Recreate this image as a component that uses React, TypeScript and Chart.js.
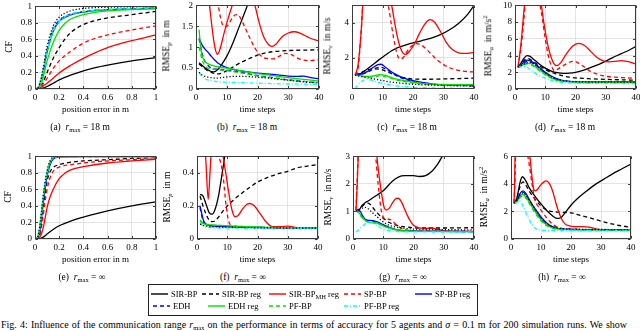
import React, { useEffect, useRef } from 'react';
import { Chart, registerables } from 'chart.js';

Chart.register(...registerables);

type Pt = [number, number];

// ---------- tick labels ----------
const cfTicks = [0, 0.2, 0.4, 0.6, 0.8, 1];
const timeTicks = [0, 10, 20, 30, 40];
const bTicksY = [0, 0.5, 1, 1.5, 2];
const cTicksY = [2, 4];
const dTicksY = [0, 2, 4, 6, 8, 10];
const fTicksY = [0, 0.2, 0.4];
const gTicksY = [0, 1, 2, 3];
const hTicksY = [0, 2, 4, 6];

// ---------- (a) CF, r_max = 18 m ----------
const aSir: Pt[] = [[0,0],[0.05,0.005],[0.1,0.03],[0.15,0.07],[0.2,0.11],[0.3,0.17],[0.4,0.22],[0.5,0.26],[0.6,0.29],[0.8,0.34],[1,0.38]];
const aSirReg: Pt[] = [[0,0],[0.03,0.01],[0.06,0.06],[0.1,0.2],[0.15,0.37],[0.2,0.5],[0.25,0.61],[0.3,0.69],[0.4,0.78],[0.5,0.83],[0.6,0.86],[0.8,0.9],[1,0.94]];
const aSirMh: Pt[] = [[0,0],[0.05,0.02],[0.1,0.07],[0.15,0.13],[0.2,0.195],[0.3,0.29],[0.4,0.37],[0.5,0.44],[0.6,0.5],[0.8,0.585],[1,0.655]];
const aSp: Pt[] = [[0,0],[0.05,0.03],[0.1,0.13],[0.15,0.25],[0.2,0.34],[0.3,0.46],[0.4,0.555],[0.5,0.615],[0.6,0.655],[0.8,0.715],[1,0.765]];
const aSpReg: Pt[] = [[0,0],[0.03,0.02],[0.06,0.15],[0.1,0.45],[0.15,0.7],[0.2,0.82],[0.25,0.87],[0.3,0.9],[0.4,0.93],[0.6,0.96],[0.8,0.97],[1,0.98]];
const aEdh: Pt[] = [[0,0],[0.03,0.02],[0.06,0.16],[0.1,0.47],[0.15,0.72],[0.2,0.83],[0.25,0.88],[0.3,0.91],[0.4,0.94],[0.6,0.96],[0.8,0.97],[1,0.98]];
const aEdhReg: Pt[] = [[0,0],[0.03,0.01],[0.06,0.1],[0.1,0.34],[0.15,0.56],[0.2,0.71],[0.25,0.8],[0.3,0.85],[0.4,0.9],[0.6,0.945],[0.8,0.96],[1,0.97]];
const aPf: Pt[] = [[0,0],[0.03,0.02],[0.06,0.15],[0.1,0.44],[0.15,0.69],[0.2,0.81],[0.25,0.87],[0.3,0.9],[0.4,0.93],[0.6,0.96],[0.8,0.97],[1,0.98]];
const aPfReg: Pt[] = [[0,0],[0.03,0.02],[0.06,0.16],[0.1,0.46],[0.15,0.71],[0.2,0.82],[0.25,0.88],[0.3,0.91],[0.4,0.94],[0.6,0.965],[0.8,0.975],[1,0.985]];
const aCrb: Pt[] = [[0,0],[0.03,0.03],[0.06,0.2],[0.1,0.52],[0.15,0.76],[0.2,0.87],[0.25,0.92],[0.3,0.95],[0.4,0.975],[0.6,0.99],[0.8,0.995],[1,1]];

// ---------- (b) RMSE_p, r_max = 18 m ----------
const bSir: Pt[] = [[1,0.63],[3,0.5],[4.5,0.43],[5.8,0.41],[7,0.46],[8,0.55],[10,0.78],[12,1.1],[14,1.48],[16,1.86],[17,2.06],[18,2.3]];
const bSirReg: Pt[] = [[1,0.6],[3,0.48],[5,0.4],[7,0.36],[9,0.4],[11,0.48],[13,0.57],[15,0.65],[18,0.75],[20,0.81],[23,0.87],[26,0.9],[30,0.92],[35,0.93],[40,0.935]];
const bSirMh: Pt[] = [[1,3.5],[3,2.8],[4.4,2.0],[5.5,1.3],[6.3,0.95],[7,0.83],[7.8,0.95],[9,1.3],[10.5,1.7],[12,2.05],[14,2.5],[17,2.5],[19,2.05],[20.5,1.6],[22,1.25],[23.5,1.07],[24.7,1.02],[26,1.07],[28,1.25],[30,1.34],[32,1.37],[34,1.33],[37,1.22],[40,1.15]];
const bSp: Pt[] = [[1,3.0],[5,2.6],[7,2.1],[8,1.7],[9,1.5],[10,1.5],[11,1.6],[12,1.72],[13,1.78],[14,1.75],[15,1.62],[17,1.3],[19,1.0],[21,0.8],[23,0.73],[25,0.72],[27,0.78],[29,0.85],[31,0.82],[33,0.74],[35,0.69],[37,0.68],[40,0.7]];
const bSpReg: Pt[] = [[1,1.22],[2,1.05],[3,0.95],[4,0.87],[5,0.78],[6,0.7],[7,0.63],[8,0.58],[10,0.51],[12,0.47],[15,0.43],[18,0.4],[20,0.38],[25,0.35],[30,0.31],[33,0.3],[35,0.31],[37,0.28],[40,0.24]];
const bEdh: Pt[] = [[1,1.2],[2,0.85],[3,0.65],[5,0.5],[7,0.47],[10,0.45],[13,0.42],[16,0.38],[20,0.32],[25,0.27],[30,0.22],[35,0.18],[40,0.15]];
const bEdhReg: Pt[] = [[1,1.42],[1.5,1.0],[2,0.8],[3,0.65],[4,0.6],[6,0.55],[8,0.52],[10,0.5],[13,0.46],[16,0.42],[20,0.37],[25,0.32],[30,0.27],[35,0.23],[40,0.19]];
const bPf: Pt[] = [[1,1.0],[2,0.7],[3,0.55],[5,0.48],[8,0.46],[10,0.44],[15,0.38],[20,0.31],[25,0.26],[30,0.21],[35,0.18],[40,0.16]];
const bPfReg: Pt[] = [[1,0.4],[2,0.3],[3,0.24],[5,0.2],[8,0.17],[12,0.16],[20,0.14],[30,0.12],[40,0.11]];
const bCrb: Pt[] = [[1,0.4],[2,0.33],[3,0.3],[5,0.27],[7,0.26],[9,0.28],[12,0.3],[16,0.3],[20,0.28],[25,0.25],[30,0.21],[35,0.17],[40,0.14]];

// ---------- (c) RMSE_v, r_max = 18 m ----------
const cSir: Pt[] = [[1,1.0],[3,1.1],[5,1.35],[7,1.62],[9,1.9],[11,2.15],[13,2.4],[15,2.58],[18,2.75],[20,2.85],[23,2.98],[26,3.12],[29,3.32],[32,3.6],[35,3.98],[38,4.5],[40,5.0]];
const cSirReg: Pt[] = [[1,1.0],[3,1.15],[5,1.3],[8,1.35],[10,1.3],[12,1.15],[15,0.95],[18,0.82],[20,0.77],[25,0.76],[30,0.78],[35,0.8],[40,0.82]];
const cSirMh: Pt[] = [[1,1.0],[2,1.6],[3,3.5],[3.6,5.2],[4,6],[10,6],[12,5.6],[13,5.0],[14,4.0],[15,3.1],[16,2.5],[17.5,2.18],[19,2.4],[20.5,2.8],[22,3.35],[24,3.95],[25.5,4.18],[27,4.05],[29,3.5],[31,2.85],[33,2.45],[35,2.28],[37,2.25],[40,2.3]];
const cSp: Pt[] = [[1,1.0],[2,1.4],[3,3.5],[4,6],[10,6],[11,5.6],[12,4.9],[13,3.8],[14,2.8],[15,2.1],[16,1.92],[17,2.05],[18,2.35],[19.5,2.65],[21,2.8],[22.5,2.75],[24,2.55],[26,2.2],[28,1.85],[30,1.6],[32,1.42],[35,1.27],[38,1.2],[40,1.18]];
const cSpReg: Pt[] = [[1,1.0],[3,1.05],[5,1.2],[7,1.45],[8.5,1.6],[9.5,1.62],[11,1.45],[13,1.18],[15,0.98],[17,0.82],[20,0.68],[23,0.58],[26,0.5],[30,0.45],[35,0.42],[40,0.4]];
const cEdh: Pt[] = [[1,1.0],[3,1.05],[5,1.15],[7,1.35],[9,1.45],[11,1.35],[13,1.12],[15,0.92],[18,0.72],[21,0.6],[25,0.5],[30,0.43],[35,0.4],[40,0.38]];
const cEdhReg: Pt[] = [[1,1.0],[3,0.95],[5,0.92],[7,0.95],[9,1.02],[11,0.98],[13,0.85],[15,0.75],[18,0.65],[21,0.57],[25,0.5],[30,0.46],[35,0.45],[40,0.45]];
const cPf: Pt[] = [[1,1.0],[3,0.93],[5,0.88],[7,0.9],[9,0.95],[11,0.9],[13,0.8],[15,0.7],[18,0.6],[21,0.53],[25,0.47],[30,0.43],[40,0.41]];
const cPfReg: Pt[] = [[1,0.22],[2,0.45],[3,0.62],[4,0.72],[5,0.75],[6,0.72],[8,0.62],[10,0.52],[13,0.42],[16,0.35],[20,0.3],[25,0.27],[30,0.25],[40,0.23]];
const cCrb: Pt[] = [[1,1.0],[3,0.92],[5,0.85],[7,0.78],[9,0.72],[12,0.62],[15,0.55],[18,0.5],[21,0.46],[25,0.43],[30,0.4],[35,0.38],[40,0.37]];

// ---------- (d) RMSE_a, r_max = 18 m ----------
const dSir: Pt[] = [[1,2.6],[2,3.1],[3,3.7],[4,4.0],[5,3.9],[6,3.6],[8,3.0],[10,2.5],[12,2.15],[14,1.95],[16,1.88],[18,1.9],[20,2.0],[23,2.3],[26,2.7],[29,3.15],[32,3.7],[35,4.2],[38,4.7],[40,5.1]];
const dSirReg: Pt[] = [[1,2.6],[2,3.0],[3,3.4],[4,3.65],[5,3.55],[6,3.3],[8,2.8],[10,2.35],[12,2.0],[14,1.75],[16,1.55],[18,1.42],[20,1.33],[25,1.22],[30,1.15],[35,1.1],[40,1.06]];
const dSirMh: Pt[] = [[1,2.6],[2,5.5],[3,9.5],[3.5,11],[8,11],[8.5,10.5],[9.5,8],[11,5],[12.5,3.3],[13.8,2.8],[15,3.1],[17,4.2],[19,5.1],[21,5.45],[23,5.2],[25,4.5],[27,3.8],[29,3.4],[31,3.25],[33,3.3],[35,3.4],[37,3.3],[40,3.0]];
const dSp: Pt[] = [[1,2.6],[2,5],[3,8.5],[3.5,11],[7,11],[8,10.5],[9,8.5],[10,6],[11,4],[12,2.8],[13,2.2],[14,2.35],[16,2.8],[18,3.2],[19.5,3.3],[21,3.1],[23,2.6],[25,2.1],[27,1.8],[30,1.52],[33,1.42],[36,1.35],[40,1.28]];
const dSpReg: Pt[] = [[1,2.6],[2,2.9],[3,3.25],[4,3.45],[5,3.4],[6,3.2],[8,2.6],[10,2.0],[12,1.55],[14,1.2],[16,1.0],[18,0.92],[20,0.88],[25,0.85],[30,0.85],[40,0.85]];
const dEdh: Pt[] = [[1,2.6],[2,2.85],[3,3.1],[4,3.3],[5,3.25],[6,3.05],[8,2.5],[10,1.9],[12,1.45],[14,1.12],[16,0.95],[20,0.85],[30,0.82],[40,0.82]];
const dEdhReg: Pt[] = [[1,2.6],[2,2.75],[3,2.95],[4,3.1],[5,3.05],[6,2.85],[8,2.3],[10,1.8],[12,1.35],[14,1.05],[16,0.92],[20,0.85],[30,0.8],[40,0.8]];
const dPf: Pt[] = [[1,2.6],[2,2.7],[3,2.9],[4,3.0],[5,2.95],[6,2.75],[8,2.2],[10,1.7],[12,1.3],[14,1.0],[16,0.9],[20,0.82],[30,0.78],[40,0.78]];
const dPfReg: Pt[] = [[1,2.6],[2,2.65],[3,2.7],[4,2.6],[5,2.35],[6,2.05],[8,1.6],[10,1.3],[12,1.02],[15,0.8],[20,0.7],[30,0.67],[40,0.65]];
const dCrb: Pt[] = [[1,2.6],[3,3.0],[5,3.2],[7,2.8],[10,1.95],[12,1.45],[14,1.15],[17,0.95],[20,0.88],[30,0.82],[40,0.8]];

// ---------- (e) CF, r_max = inf ----------
const eSir: Pt[] = [[0,0],[0.03,0.002],[0.05,0.01],[0.08,0.035],[0.1,0.06],[0.15,0.115],[0.2,0.16],[0.3,0.22],[0.4,0.265],[0.5,0.305],[0.6,0.34],[0.8,0.4],[1,0.45]];
const eSirReg: Pt[] = [[0,0],[0.02,0.005],[0.04,0.06],[0.06,0.25],[0.08,0.5],[0.1,0.7],[0.12,0.8],[0.15,0.865],[0.2,0.9],[0.3,0.93],[0.4,0.945],[0.6,0.96],[0.8,0.975],[1,0.985]];
const eSirMh: Pt[] = [[0,0],[0.03,0.01],[0.05,0.05],[0.07,0.15],[0.1,0.38],[0.12,0.49],[0.15,0.6],[0.2,0.73],[0.25,0.8],[0.3,0.84],[0.4,0.875],[0.6,0.92],[0.8,0.945],[1,0.965]];
const eSp: Pt[] = [[0,0],[0.02,0.005],[0.04,0.05],[0.06,0.2],[0.08,0.42],[0.1,0.6],[0.12,0.72],[0.15,0.82],[0.2,0.87],[0.3,0.9],[0.5,0.935],[0.8,0.96],[1,0.97]];
const eSpReg: Pt[] = [[0,0],[0.02,0.01],[0.04,0.1],[0.06,0.33],[0.08,0.57],[0.1,0.76],[0.12,0.88],[0.14,0.95],[0.17,0.985],[0.25,0.996],[0.4,1],[1,1]];
const eEdh: Pt[] = [[0,0],[0.02,0.01],[0.04,0.1],[0.06,0.34],[0.08,0.58],[0.1,0.77],[0.12,0.89],[0.14,0.96],[0.17,0.99],[0.25,0.997],[0.4,1],[1,1]];
const eEdhReg: Pt[] = [[0,0],[0.02,0.02],[0.04,0.15],[0.06,0.4],[0.08,0.63],[0.1,0.8],[0.12,0.91],[0.14,0.97],[0.17,0.99],[0.3,0.995],[1,0.995]];
const ePf: Pt[] = [[0,0],[0.02,0.02],[0.04,0.14],[0.06,0.38],[0.08,0.62],[0.1,0.79],[0.12,0.9],[0.14,0.965],[0.17,0.99],[0.3,0.995],[1,0.995]];
const ePfReg: Pt[] = [[0,0],[0.02,0.02],[0.04,0.16],[0.06,0.42],[0.08,0.65],[0.1,0.82],[0.12,0.92],[0.14,0.97],[0.17,0.99],[0.3,0.995],[1,0.995]];
const eCrb: Pt[] = [[0,0],[0.02,0.02],[0.04,0.16],[0.06,0.42],[0.08,0.66],[0.1,0.83],[0.12,0.93],[0.14,0.98],[0.17,0.995],[0.3,1],[1,1]];

// ---------- (f) RMSE_p, r_max = inf ----------
const fSir: Pt[] = [[1,0.27],[2,0.26],[3,0.21],[4,0.16],[5,0.15],[6,0.18],[7,0.25],[8,0.36],[9,0.48],[9.5,0.55],[10,0.62]];
const fSirReg: Pt[] = [[1,0.26],[2,0.2],[3,0.15],[4,0.115],[5,0.105],[6,0.11],[7,0.13],[8,0.155],[10,0.2],[12,0.235],[15,0.28],[18,0.32],[20,0.345],[23,0.37],[26,0.39],[30,0.41],[33,0.43],[36,0.44],[40,0.45]];
const fSirMh: Pt[] = [[1,0.7],[2.5,0.6],[3,0.45],[3.7,0.24],[4.3,0.4],[5,0.6],[8,0.6],[8.5,0.52],[9.5,0.4],[10.5,0.28],[11.5,0.18],[12.5,0.135],[13.5,0.14],[15,0.18],[16.5,0.21],[17.5,0.215],[19,0.2],[21,0.15],[23,0.1],[25,0.075],[28,0.075],[30,0.078],[33,0.068],[36,0.065],[40,0.065]];
const fSp: Pt[] = [[1,0.6],[5,0.55],[6,0.52],[7,0.5],[8,0.45],[8.8,0.35],[9.5,0.22],[10.3,0.12],[11,0.085],[12,0.075],[15,0.072],[20,0.07],[30,0.068],[40,0.065]];
const fSpReg: Pt[] = [[1,0.2],[1.5,0.16],[2,0.12],[2.5,0.1],[3,0.09],[4,0.082],[6,0.078],[10,0.075],[15,0.072],[20,0.07],[30,0.067],[40,0.065]];
const fEdh: Pt[] = [[1,0.19],[2,0.11],[3,0.088],[5,0.08],[10,0.075],[20,0.07],[40,0.065]];
const fEdhReg: Pt[] = [[1,0.115],[2,0.095],[3,0.088],[5,0.085],[8,0.082],[12,0.078],[20,0.072],[30,0.068],[40,0.066]];
const fPf: Pt[] = [[1,0.11],[2,0.09],[4,0.085],[10,0.08],[20,0.072],[40,0.066]];
const fPfReg: Pt[] = [[1,0.095],[2,0.08],[3,0.072],[5,0.068],[10,0.066],[20,0.065],[40,0.064]];
const fCrb: Pt[] = [[1,0.09],[3,0.078],[10,0.072],[20,0.068],[40,0.065]];

// ---------- (g) RMSE_v, r_max = inf ----------
const gSir: Pt[] = [[1,1.02],[2,1.05],[3,1.22],[4,1.32],[5,1.38],[6,1.45],[8,1.6],[10,1.75],[13,2.1],[15,2.25],[17,2.3],[20,2.3],[22,2.27],[24,2.3],[26,2.45],[28,2.72],[29.5,3.0],[30.5,3.2]];
const gSirReg: Pt[] = [[1,1.02],[2,1.08],[3,1.18],[4,1.28],[5,1.3],[6,1.22],[7,1.08],[8,0.95],[10,0.75],[12,0.6],[15,0.48],[18,0.43],[22,0.4],[30,0.4],[40,0.41]];
const gSirMh: Pt[] = [[1,1.05],[1.4,2],[1.8,3.2],[2,4],[7,4],[7.7,3.2],[8.5,2.4],[9.5,1.6],[10.3,1.15],[11,1.05],[12,1.12],[13,1.3],[14,1.45],[15,1.48],[16,1.35],[17,1.1],[18,0.85],[19,0.65],[20,0.5],[22,0.4],[24,0.38],[26,0.4],[28,0.35],[30,0.3],[34,0.28],[40,0.28]];
const gSp: Pt[] = [[1,1.05],[1.5,2.5],[2,4],[6.5,4],[7.5,3.0],[8.3,2.0],[9,1.3],[9.5,0.95],[10.3,0.75],[11.5,0.72],[12.5,0.7],[13.5,0.6],[15,0.45],[17,0.35],[20,0.3],[30,0.28],[40,0.27]];
const gSpReg: Pt[] = [[1,1.05],[2,1.05],[3,0.88],[4,0.72],[5,0.68],[6,0.68],[7,0.66],[8,0.62],[10,0.52],[12,0.42],[14,0.35],[16,0.31],[20,0.29],[30,0.28],[40,0.27]];
const gEdh: Pt[] = [[1,1.05],[2,1.0],[3,0.82],[4,0.7],[6,0.66],[8,0.6],[10,0.5],[12,0.4],[15,0.32],[20,0.29],[40,0.27]];
const gEdhReg: Pt[] = [[1,1.05],[2,0.95],[3,0.8],[4,0.68],[5,0.62],[6,0.6],[7,0.6],[8,0.58],[10,0.48],[12,0.4],[14,0.34],[16,0.3],[20,0.28],[40,0.27]];
const gPf: Pt[] = [[1,1.05],[2,0.92],[3,0.78],[5,0.6],[7,0.57],[9,0.52],[11,0.43],[14,0.33],[18,0.29],[40,0.27]];
const gPfReg: Pt[] = [[1,0.25],[2,0.35],[3,0.45],[4,0.55],[5,0.6],[6,0.6],[7,0.55],[8,0.48],[10,0.36],[12,0.3],[15,0.27],[20,0.26],[40,0.25]];
const gCrb: Pt[] = [[1,1.02],[2,1.06],[3,1.12],[4,1.15],[5,1.1],[6,1.0],[7,0.9],[8,0.8],[10,0.62],[12,0.5],[15,0.42],[20,0.36],[30,0.34],[40,0.33]];

// ---------- (h) RMSE_a, r_max = inf ----------
const hSir: Pt[] = [[1,2.6],[2,3.0],[3,4.1],[3.8,4.52],[5,4.2],[6,3.75],[8,3.1],[10,2.55],[12,2.05],[14,1.65],[15,1.52],[16,1.5],[17,1.62],[18,1.9],[20,2.45],[22,2.9],[25,3.45],[28,3.95],[31,4.35],[34,4.75],[37,5.1],[40,5.45]];
const hSirReg: Pt[] = [[1,2.6],[2,3.0],[3,3.8],[4,4.15],[5,3.9],[6,3.5],[8,2.9],[10,2.4],[12,2.1],[14,1.98],[16,1.95],[18,1.93],[20,1.9],[23,1.72],[26,1.55],[30,1.3],[34,1.08],[37,0.95],[40,0.85]];
const hSirMh: Pt[] = [[1,2.6],[1.2,4],[1.4,6.5],[6,6.5],[6.3,6],[7,4.5],[7.6,3.6],[8.2,3.5],[9,3.65],[10,3.95],[11,4.15],[11.7,4.22],[13,3.95],[14,3.4],[15,2.6],[16,1.9],[17,1.4],[18,1.1],[19.5,0.95],[21,0.9],[24,0.9],[26,0.86],[28,0.75],[30,0.68],[35,0.65],[40,0.65]];
const hSp: Pt[] = [[1,2.6],[1.3,4],[1.6,6.5],[5,6.5],[6,5.5],[7,4.0],[8,2.8],[9,2.4],[10,2.1],[12,1.5],[13,1.25],[14,1.05],[15,0.92],[17,0.78],[20,0.72],[30,0.66],[40,0.65]];
const hSpReg: Pt[] = [[1,2.6],[2,2.8],[3,3.3],[4,3.5],[5,3.3],[6,2.9],[8,2.2],[10,1.6],[12,1.15],[14,0.88],[16,0.75],[20,0.7],[30,0.67],[40,0.65]];
const hEdh: Pt[] = [[1,2.6],[2,2.75],[3,3.2],[4,3.4],[5,3.2],[6,2.8],[8,2.1],[10,1.5],[12,1.08],[14,0.84],[16,0.74],[20,0.7],[40,0.65]];
const hEdhReg: Pt[] = [[1,2.6],[2,2.7],[3,3.05],[4,3.25],[5,3.05],[6,2.7],[8,2.0],[10,1.4],[12,1.0],[14,0.8],[16,0.72],[20,0.68],[40,0.64]];
const hPf: Pt[] = [[1,2.6],[2,2.68],[3,3.0],[4,3.15],[5,2.95],[6,2.6],[8,1.9],[10,1.32],[12,0.95],[14,0.78],[16,0.71],[20,0.68],[40,0.64]];
const hPfReg: Pt[] = [[1,2.6],[2,2.7],[3,2.75],[4,2.4],[5,1.9],[6,1.45],[7,1.05],[8,0.8],[9,0.68],[10,0.64],[12,0.62],[15,0.61],[20,0.6],[40,0.6]];
const hCrb: Pt[] = [[1,2.6],[2,2.8],[3,3.2],[4,3.35],[5,3.2],[6,2.85],[8,2.2],[10,1.55],[12,1.1],[14,0.88],[17,0.75],[20,0.72],[40,0.68]];

// ---------- series styles ----------
const GREEN = '#00e000';
const STYLES = [
  { label: 'SIR-BP', color: '#000000', dash: [] as number[] },
  { label: 'SIR-BP reg', color: '#000000', dash: [4, 3] },
  { label: 'SIR-BP_MH reg', color: '#ff0000', dash: [] as number[] },
  { label: 'SP-BP', color: '#ff0000', dash: [4, 3] },
  { label: 'SP-BP reg', color: '#0000ff', dash: [] as number[] },
  { label: 'EDH', color: '#0000ff', dash: [4, 3] },
  { label: 'EDH reg', color: GREEN, dash: [] as number[] },
  { label: 'PF-BP', color: GREEN, dash: [4, 3] },
  { label: 'PF-BP reg', color: '#00ffff', dash: [4, 2, 1, 2] },
  { label: 'bound', color: '#000000', dash: [1.2, 2] },
];

const PLOTS = [
  { tag: 'a', L: 35, T: 4, R: 156, B: 89, xMax: 1, xTicks: cfTicks, yMin: 0, yMax: 1, yTicks: cfTicks, xTitle: 'position error in m', yT: 'cf', ytx: 10, cx: 80, cy: 128, r: '18 m',
    series: [aSir, aSirReg, aSirMh, aSp, aSpReg, aEdh, aEdhReg, aPf, aPfReg, aCrb] },
  { tag: 'b', L: 196, T: 3, R: 319, B: 89, xMax: 40, xTicks: timeTicks, yMin: 0, yMax: 2, yTicks: bTicksY, xTitle: 'time steps', yT: 'p', ytx: 167, cx: 247, cy: 128, r: '18 m',
    series: [bSir, bSirReg, bSirMh, bSp, bSpReg, bEdh, bEdhReg, bPf, bPfReg, bCrb] },
  { tag: 'c', L: 352, T: 3, R: 474, B: 89, xMax: 40, xTicks: timeTicks, yMin: 0.2, yMax: 5, yTicks: cTicksY, xTitle: 'time steps', yT: 'v', ytx: 328, cx: 407, cy: 128, r: '18 m',
    series: [cSir, cSirReg, cSirMh, cSp, cSpReg, cEdh, cEdhReg, cPf, cPfReg, cCrb] },
  { tag: 'd', L: 515, T: 3, R: 636, B: 89, xMax: 40, xTicks: timeTicks, yMin: 0, yMax: 10, yTicks: dTicksY, xTitle: 'time steps', yT: 'a', ytx: 489, cx: 565, cy: 128, r: '18 m',
    series: [dSir, dSirReg, dSirMh, dSp, dSpReg, dEdh, dEdhReg, dPf, dPfReg, dCrb] },
  { tag: 'e', L: 35, T: 154, R: 156, B: 239, xMax: 1, xTicks: cfTicks, yMin: 0, yMax: 1, yTicks: cfTicks, xTitle: 'position error in m', yT: 'cf', ytx: 9, cx: 82, cy: 278, r: '∞',
    series: [eSir, eSirReg, eSirMh, eSp, eSpReg, eEdh, eEdhReg, ePf, ePfReg, eCrb] },
  { tag: 'f', L: 197, T: 154, R: 318, B: 239, xMax: 40, xTicks: timeTicks, yMin: 0, yMax: 0.5, yTicks: fTicksY, xTitle: 'time steps', yT: 'p', ytx: 168, cx: 243, cy: 278, r: '∞',
    series: [fSir, fSirReg, fSirMh, fSp, fSpReg, fEdh, fEdhReg, fPf, fPfReg, fCrb] },
  { tag: 'g', L: 353, T: 154, R: 474, B: 239, xMax: 40, xTicks: timeTicks, yMin: 0, yMax: 3, yTicks: gTicksY, xTitle: 'time steps', yT: 'v', ytx: 329, cx: 403, cy: 278, r: '∞',
    series: [gSir, gSirReg, gSirMh, gSp, gSpReg, gEdh, gEdhReg, gPf, gPfReg, gCrb] },
  { tag: 'h', L: 511, T: 154, R: 631, B: 239, xMax: 40, xTicks: timeTicks, yMin: 0, yMax: 6, yTicks: hTicksY, xTitle: 'time steps', yT: 'a', ytx: 485, cx: 562, cy: 278, r: '∞',
    series: [hSir, hSirReg, hSirMh, hSp, hSpReg, hEdh, hEdhReg, hPf, hPfReg, hCrb] },
];

const FONT = '"Liberation Serif", "Times New Roman", "DejaVu Serif", serif';
const YW = 30, PT = 6, PR = 8, XH = 30;

const framePlugin = {
  id: 'frame',
  afterDraw(chart: any) {
    const { ctx, chartArea: a } = chart;
    const xs = chart.scales.x, ys = chart.scales.y;
    const l = Math.round(a.left) + 0.5, r = Math.round(a.right) - 0.5;
    const t = Math.round(a.top) + 0.5, b = Math.round(a.bottom) - 0.5;
    ctx.save();
    ctx.strokeStyle = '#3c3c3c';
    ctx.lineWidth = 1;
    ctx.setLineDash([]);
    ctx.beginPath();
    xs.ticks.forEach((tk: any) => {
      const px = Math.round(xs.getPixelForValue(tk.value)) + 0.5;
      ctx.moveTo(px, b); ctx.lineTo(px, b - 2.5);
      ctx.moveTo(px, t); ctx.lineTo(px, t + 2.5);
    });
    ys.ticks.forEach((tk: any) => {
      const py = Math.round(ys.getPixelForValue(tk.value)) + 0.5;
      ctx.moveTo(l, py); ctx.lineTo(l + 2.5, py);
      ctx.moveTo(r, py); ctx.lineTo(r - 2.5, py);
    });
    ctx.stroke();
    ctx.strokeRect(l, t, r - l, b - t);
    ctx.restore();
  },
};

const fmt = (v: any) => String(Math.round(Number(v) * 1000) / 1000);

function SubPlot({ p }: { p: any }) {
  const ref = useRef<HTMLCanvasElement | null>(null);
  useEffect(() => {
    if (!ref.current) return;
    const tickFont = { family: FONT, size: 9 };
    const grid = { color: '#dcdcdc', lineWidth: 0.8, drawTicks: false };
    const chart = new Chart(ref.current, {
      type: 'line',
      data: {
        datasets: p.series.map((pts: Pt[], i: number) => ({
          label: STYLES[i].label,
          data: pts.map(([x, y]) => ({ x, y })),
          borderColor: STYLES[i].color,
          backgroundColor: STYLES[i].color,
          borderDash: STYLES[i].dash,
          borderWidth: 1.3,
          pointRadius: 0,
          fill: false,
          cubicInterpolationMode: 'monotone',
          order: -i,
        })),
      },
      options: {
        responsive: false,
        maintainAspectRatio: false,
        animation: false,
        layout: { padding: { top: PT, right: PR, left: 0, bottom: 0 } },
        plugins: { legend: { display: false }, tooltip: { enabled: false } },
        scales: {
          x: {
            type: 'linear', min: 0, max: p.xMax,
            afterBuildTicks: (s: any) => { s.ticks = p.xTicks.map((v: number) => ({ value: v })); },
            afterFit: (s: any) => { s.height = XH; },
            ticks: { font: tickFont, color: '#000', padding: 3, maxRotation: 0, autoSkip: false, callback: fmt },
            grid, border: { display: false },
            title: { display: true, text: p.xTitle, color: '#000', font: { family: FONT, size: 9 }, padding: { top: 0, bottom: 4 } },
          },
          y: {
            type: 'linear', min: p.yMin, max: p.yMax,
            afterBuildTicks: (s: any) => { s.ticks = p.yTicks.map((v: number) => ({ value: v })); },
            afterFit: (s: any) => { s.width = YW; },
            ticks: { font: tickFont, color: '#000', padding: 3, autoSkip: false, callback: fmt },
            grid, border: { display: false },
          },
        },
      } as any,
      plugins: [framePlugin],
    });
    return () => chart.destroy();
  }, []);
  const w = p.R - p.L + YW + PR;
  const h = p.B - p.T + PT + XH;
  return (
    <canvas ref={ref} width={w} height={h}
      style={{ position: 'absolute', left: p.L - YW, top: p.T - PT, width: w, height: h }} />
  );
}

const sub = { fontSize: '6.5px', position: 'relative' as const, top: '2px' };
const sup = { fontSize: '6.5px', position: 'relative' as const, top: '-4px' };

function YTitle({ p }: { p: any }) {
  let content: any;
  if (p.yT === 'cf') content = <span>CF</span>;
  else if (p.yT === 'p') content = <span>RMSE<i style={sub}>p</i>&nbsp; in m</span>;
  else if (p.yT === 'v') content = <span>RMSE<i style={sub}>v</i>&nbsp; in m/s</span>;
  else content = <span>RMSE<i style={sub}>a</i>&nbsp; in m/s<span style={sup}>2</span></span>;
  return (
    <div style={{ position: 'absolute', left: p.ytx, top: (p.T + p.B) / 2, transform: 'translate(-50%, -50%) rotate(-90deg)',
      whiteSpace: 'nowrap', fontSize: '9.5px', lineHeight: 1 }}>{content}</div>
  );
}

function Caption({ p }: { p: any }) {
  return (
    <div style={{ position: 'absolute', left: p.cx, top: p.cy, transform: 'translate(-50%, -50%)', whiteSpace: 'nowrap',
      fontSize: '9.5px', lineHeight: 1 }}>
      ({p.tag})&nbsp;&nbsp;<i>r</i><span style={sub}>max</span>&nbsp;=&nbsp;{p.r}
    </div>
  );
}

const LEGEND_ITEMS = [
  { s: 0, row: 0, tx: 171 }, { s: 1, row: 0, tx: 222 }, { s: 2, row: 0, tx: 289 }, { s: 3, row: 0, tx: 364 }, { s: 4, row: 0, tx: 435 },
  { s: 5, row: 1, tx: 173 }, { s: 6, row: 1, tx: 228 }, { s: 7, row: 1, tx: 289 }, { s: 8, row: 1, tx: 364 },
];

function Legend() {
  const rowY = [294, 306];
  return (
    <>
      <div style={{ position: 'absolute', left: 148, top: 284, width: 328, height: 30, border: '1px solid #222' }} />
      {LEGEND_ITEMS.map((it, k) => {
        const st = STYLES[it.s];
        const y = rowY[it.row];
        const label = it.s === 2
          ? <span>SIR-BP<span style={sub}>MH</span> reg</span>
          : <span>{st.label}</span>;
        return (
          <React.Fragment key={k}>
            <svg width={17} height={6} style={{ position: 'absolute', left: it.tx - 20, top: y - 3 }}>
              <line x1={0} y1={3} x2={17} y2={3} stroke={st.color} strokeWidth={1.4}
                strokeDasharray={st.dash.length ? st.dash.join(' ') : undefined} />
            </svg>
            <div style={{ position: 'absolute', left: it.tx, top: y, transform: 'translateY(-50%)', whiteSpace: 'nowrap',
              fontSize: '8.5px', lineHeight: 1 }}>{label}</div>
          </React.Fragment>
        );
      })}
    </>
  );
}

export default function App() {
  useEffect(() => {
    document.body.style.margin = '0';
  }, []);
  return (
    <div style={{ position: 'relative', width: 640, height: 331, overflow: 'hidden', background: '#fff', fontFamily: FONT, color: '#000' }}>
      {PLOTS.map((p) => (
        <React.Fragment key={p.tag}>
          <SubPlot p={p} />
          <YTitle p={p} />
          <Caption p={p} />
        </React.Fragment>
      ))}
      <Legend />
      <div style={{ position: 'absolute', left: 1, top: 320, width: 626, fontSize: '10px', lineHeight: 1, whiteSpace: 'nowrap',
        textAlign: 'justify', textAlignLast: 'justify' as any }}>
        Fig. 4: Influence of the communication range <i>r</i><span style={sub}>max</span> on the performance in terms of accuracy for 5 agents and <i>σ</i> = 0.1 m for 200 simulation runs. We show
      </div>
    </div>
  );
}
